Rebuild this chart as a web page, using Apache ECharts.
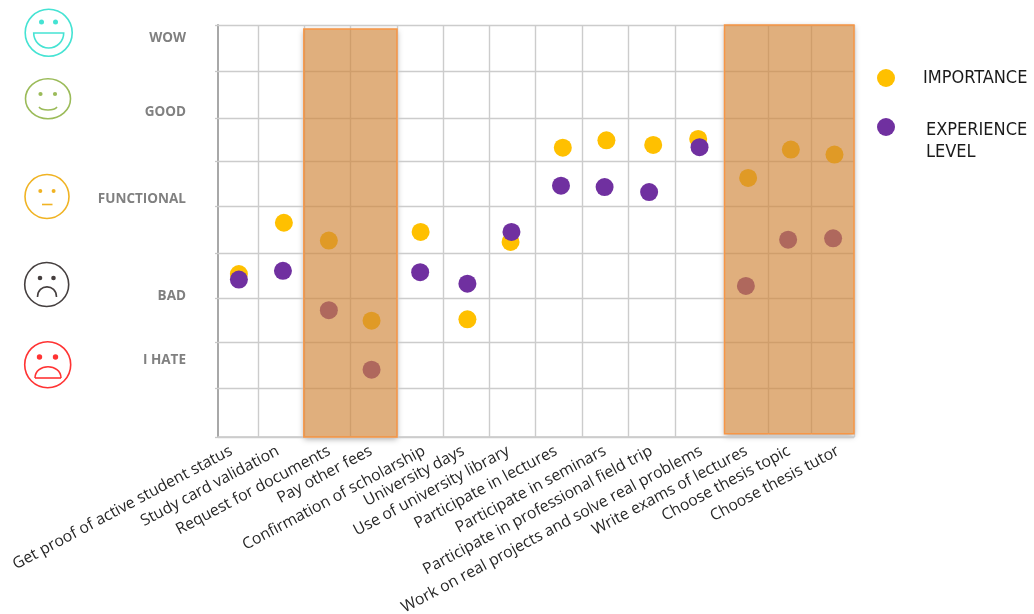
<!DOCTYPE html>
<html>
<head>
<meta charset="utf-8">
<style>html,body{margin:0;padding:0;background:#fff}#c{width:1034px;height:614px}</style>
<script src="https://cdn.jsdelivr.net/npm/echarts@6/dist/echarts.min.js"></script>
</head>
<body>
<div id="c"></div>
<script>
const categories = ["Get proof of active student status","Study card validation","Request for documents","Pay other fees","Confirmation of scholarship","University days","Use of university library","Participate in lectures","Participate in seminars","Participate in professional field trip","Work on real projects and solve real problems","Write exams of lectures","Choose thesis topic","Choose thesis tutor"];
const labelStops = [0.29,1.32,2.45,3.37,4.54,5.40,6.39,7.44,8.52,9.54,10.64,11.63,12.57,13.65];
const importanceX = [0.46,1.45,2.44,3.38,4.46,5.49,6.44,7.59,8.55,9.58,10.57,11.67,12.61,13.57];
const importanceY = [3.56,4.68,4.29,2.54,4.48,2.57,4.26,6.32,6.48,6.38,6.51,5.66,6.28,6.17];
const experienceX = [0.46,1.43,2.44,3.38,4.45,5.49,6.46,7.55,8.51,9.49,10.60,11.62,12.55,13.54];
const experienceY = [3.44,3.63,2.77,1.47,3.60,3.35,4.48,5.49,5.46,5.35,6.33,3.30,4.31,4.34];
const moodLabels = ["I HATE","BAD","FUNCTIONAL","GOOD","WOW"];
const moodStops = [1.68,3.08,5.20,7.10,8.72];
const yGridStops = [0,1.06,2.08,3.03,4.01,5.03,6.03,6.97,7.98,9];
const xGridStops = [0.88,1.89,2.91,3.94,4.95,5.97,6.99,8.01,9.02,10.07,12.11,13.05,14];
const panels = [[1.89,3.94,0,8.91],[11.15,14,0.07,9]];

const near = (list, v) => list.findIndex(s => Math.abs(s - v) < 0.001);
const stroke = (color, w) => ({stroke: color, fill: 'transparent', lineWidth: w || 1.6});
const circle = (cx, cy, r, color) => ({type: 'circle', shape: {cx, cy, r}, style: stroke(color)});
const eye = (cx, cy, r, color) => ({type: 'circle', shape: {cx, cy, r}, style: {fill: color}});
const curve = (x1, y1, cpx1, cpy1, cpx2, cpy2, x2, y2, color) => ({type: 'bezierCurve', shape: {x1, y1, cpx1, cpy1, cpx2, cpy2, x2, y2}, style: stroke(color)});
const line = (x1, y1, x2, y2, color) => ({type: 'line', shape: {x1, y1, x2, y2}, style: stroke(color)});

const cyan = '#45E3D3', green = '#9BBB59', amber = '#F0B323', dark = '#453F3F', red = '#FF3333';
const faces = [
  circle(48.7, 32.7, 23.5, cyan), eye(41.5, 22, 2.5, cyan), eye(55.5, 22, 2.5, cyan),
  {type: 'sector', shape: {cx: 48.7, cy: 33, r: 15, startAngle: 0, endAngle: Math.PI}, style: stroke(cyan)},
  {type: 'ellipse', shape: {cx: 48, cy: 98.7, rx: 22.5, ry: 20}, style: stroke(green)},
  eye(40.5, 94, 2.1, green), eye(55, 94, 2.1, green), curve(39, 107, 42, 111, 54, 111, 57, 107, green),
  circle(47, 196.5, 22, amber), eye(40.3, 191, 2, amber), eye(53.6, 191, 2, amber), line(42, 204.5, 52.5, 204.5, amber),
  circle(46.7, 284.5, 22, dark), eye(40, 278, 2.3, dark), eye(53.5, 278, 2.3, dark), curve(37.5, 297, 37.5, 283.5, 56.5, 283.5, 56.5, 297, dark),
  circle(47.7, 364.7, 23, red), eye(39.5, 357, 2.7, red), eye(55.5, 357, 2.7, red),
  curve(35, 378, 35, 363, 61, 363, 61, 378, red), line(35, 378, 61, 378, red)
];

const legendFont = {fontFamily: 'DejaVu Sans Condensed', fontSize: 18, color: '#1a1a1a'};
const chart = echarts.init(document.getElementById('c'), null, {renderer: 'canvas'});
chart.setOption({
  animation: false,
  backgroundColor: '#fff',
  grid: {left: 218, top: 25, width: 636, height: 412, containLabel: false, outerBoundsMode: 'none'},
  graphic: {elements: faces},
  legend: [
    {data: ['IMPORTANCE'], left: 872, top: 64, orient: 'vertical', icon: 'circle', itemWidth: 18, itemHeight: 18, selectedMode: false,
     textStyle: Object.assign({padding: [0, 0, 0, 23]}, legendFont)},
    {data: ['EXPERIENCE LEVEL'], left: 872, top: 96, orient: 'vertical', icon: 'circle', itemWidth: 18, itemHeight: 18, selectedMode: false,
     formatter: () => '{s| }\n{t|EXPERIENCE}\n{t|LEVEL}',
     textStyle: Object.assign({padding: [0, 0, 0, 26], rich: {s: {lineHeight: 28, fontSize: 8}, t: Object.assign({lineHeight: 22}, legendFont)}}, legendFont)}
  ],
  xAxis: {
    type: 'value', min: 0, max: 14, splitLine: {show: false},
    axisLine: {show: true, onZero: false, lineStyle: {color: '#c8c8c8', width: 1.5}},
    axisTick: {show: false},
    axisLabel: {
      customValues: labelStops, rotate: 28, margin: 13, hideOverlap: false,
      fontFamily: 'Open Sans', fontSize: 15.8, color: '#262626',
      formatter: v => categories[near(labelStops, v)] || ''
    }
  },
  yAxis: {
    type: 'value', min: 0, max: 9, splitLine: {show: false},
    axisLine: {show: true, lineStyle: {color: '#a8a8a8', width: 2}},
    axisTick: {show: true, length: 3, customValues: yGridStops, lineStyle: {color: '#c8c8c8', width: 1.3}},
    axisLabel: {
      customValues: moodStops, margin: 32, hideOverlap: false,
      fontFamily: 'Open Sans', fontSize: 13.5, fontWeight: 'bold', color: '#808080',
      formatter: v => moodLabels[near(moodStops, v)] || ''
    }
  },
  series: [
    {
      name: 'IMPORTANCE', type: 'scatter', z: 5, symbolSize: 18, itemStyle: {color: '#FFC000', opacity: 1},
      data: importanceX.map((x, i) => [x, importanceY[i]]),
      markLine: {
        silent: true, z: 1, symbol: 'none', label: {show: false},
        lineStyle: {color: '#cccccc', width: 1.4, type: 'solid'},
        data: yGridStops.map(v => ({yAxis: v})).concat(xGridStops.map(v => ({xAxis: v})))
      },
      markArea: {
        silent: true, z: 10, label: {show: false},
        itemStyle: {color: 'rgba(208,133,58,0.66)', borderColor: '#F79646', borderWidth: 1.5},
        data: panels.map(p => [{xAxis: p[0], yAxis: p[2]}, {xAxis: p[1], yAxis: p[3]}])
      }
    },
    {
      name: 'EXPERIENCE LEVEL', type: 'scatter', z: 6, symbolSize: 18, itemStyle: {color: '#7030A0', opacity: 1},
      data: experienceX.map((x, i) => [x, experienceY[i]]),
      markArea: {
        silent: true, z: 0, label: {show: false},
        itemStyle: {color: '#ffffff', shadowBlur: 6, shadowColor: 'rgba(0,0,0,0.35)', shadowOffsetY: 2},
        data: panels.map(p => [{xAxis: p[0], yAxis: p[2]}, {xAxis: p[1], yAxis: p[3]}])
      }
    }
  ]
});
</script>
</body>
</html>
